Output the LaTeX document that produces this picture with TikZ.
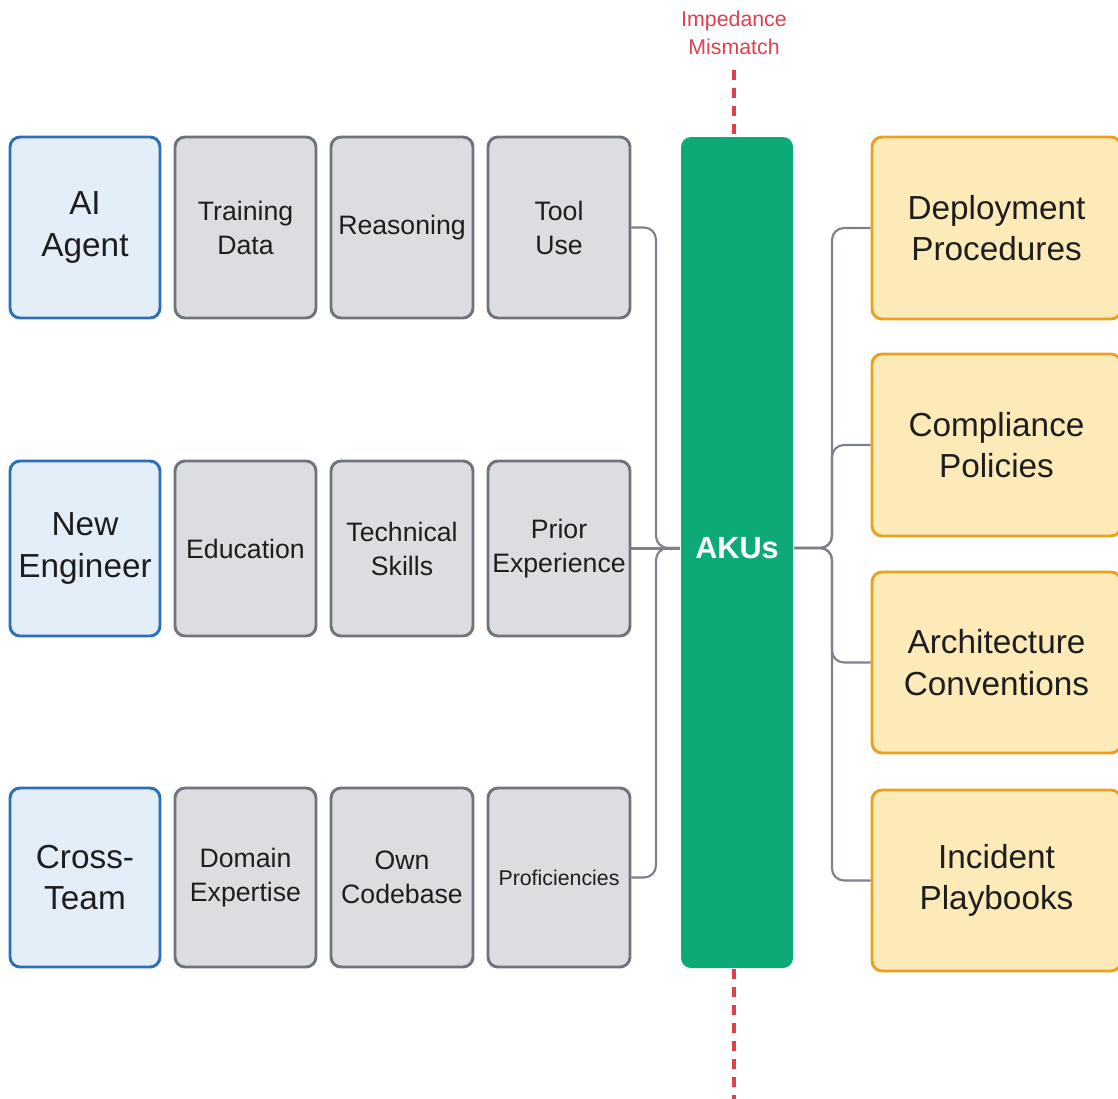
\documentclass[tikz,border=0pt]{standalone}
\usepackage{fontspec}
\setmainfont{Liberation Sans}
\definecolor{bluebd}{HTML}{2C6FB7}
\definecolor{bluefl}{HTML}{E4EEF9}
\definecolor{graybd}{HTML}{6E737C}
\definecolor{grayfl}{HTML}{DCDDE0}
\definecolor{yelbd}{HTML}{E8A21E}
\definecolor{yelfl}{HTML}{FCEBB9}
\definecolor{akugreen}{HTML}{0DAA78}
\definecolor{connc}{HTML}{7C818A}
\definecolor{redc}{HTML}{E0404E}
\definecolor{txt}{HTML}{1E1E1E}
\newcommand{\mybox}[7]{\node[#2, minimum width={(#5-#3)*0.75pt}, minimum height={(#6-#4)*0.75pt}] (#1) at ({(#3+#5)/2},{(#4+#6)/2}) {#7};}
\tikzset{
  base/.style={rectangle, rounded corners=7.5pt, line width=2.2pt, inner sep=0pt, align=center, text=txt},
  bluebox/.style={base, draw=bluebd, fill=bluefl, font=\fontsize{25}{31}\selectfont},
  graybox/.style={base, draw=graybd, fill=grayfl, font=\fontsize{20}{25.5}\selectfont},
  smallgray/.style={graybox, font=\fontsize{16}{20}\selectfont},
  yelbox/.style={base, draw=yelbd, fill=yelfl, font=\fontsize{25}{31}\selectfont},
  akubox/.style={base, draw=none, fill=akugreen, text=white, font=\bfseries\fontsize{23}{28}\selectfont},
  conn/.style={draw=connc, line width=1.6pt, rounded corners=9pt},
  reddash/.style={draw=redc, line width=2.8pt, dash pattern=on 7.5pt off 6pt},
  redlabel/.style={text=redc, align=center, font=\fontsize{16}{20.5}\selectfont}
}
\begin{document}
\begin{tikzpicture}[x=0.75pt, y=-0.75pt]
\useasboundingbox[fill=white] (0,0) rectangle (1118,1099);
\clip (0,0) rectangle (1118,1099);
% left column
\mybox{ai}{bluebox}{10}{137}{160}{318}{AI\\Agent}
\mybox{ne}{bluebox}{10}{461}{160}{636}{New\\Engineer}
\mybox{ct}{bluebox}{10}{788}{160}{967}{Cross-\\Team}
\mybox{td}{graybox}{175}{137}{316}{318}{Training\\Data}
\mybox{rs}{graybox}{331}{137}{473}{318}{Reasoning}
\mybox{tu}{graybox}{488}{137}{630}{318}{Tool\\Use}
\mybox{ed}{graybox}{175}{461}{316}{636}{Education}
\mybox{ts}{graybox}{331}{461}{473}{636}{Technical\\Skills}
\mybox{pe}{graybox}{488}{461}{630}{636}{Prior\\Experience}
\mybox{de}{graybox}{175}{788}{316}{967}{Domain\\Expertise}
\mybox{oc}{graybox}{331}{788}{473}{967}{Own\\Codebase}
\mybox{pr}{smallgray}{488}{788}{630}{967}{Proficiencies}
% AKUs
\mybox{aku}{akubox}{681}{137}{793}{968}{}
\node[text=white, font=\bfseries\fontsize{23}{28}\selectfont] (akulbl) at (737,548) {AKUs};
% right column
\mybox{dp}{yelbox}{872}{137}{1121}{319}{Deployment\\Procedures}
\mybox{cp}{yelbox}{872}{354}{1121}{536}{Compliance\\Policies}
\mybox{ac}{yelbox}{872}{572}{1121}{753}{Architecture\\Conventions}
\mybox{ip}{yelbox}{872}{790}{1121}{971}{Incident\\Playbooks}
% connectors
\coordinate (lj) at (656,548);
\coordinate (rj) at (832,548);
\draw[conn] (tu.east) -| (lj) -- (aku.west |- lj);
\draw[conn] (pr.east) -| (lj) -- (aku.west |- lj);
\draw[conn] (pe.east) -- (aku.west |- pe.east);
\draw[conn] (aku.east |- rj) -- (rj) |- (dp.west);
\draw[conn] (aku.east |- rj) -- (rj) |- (cp.west);
\draw[conn] (aku.east |- rj) -- (rj) |- (ac.west);
\draw[conn] (aku.east |- rj) -- (rj) |- (ip.west);
% impedance mismatch
\node[redlabel] (imp) at (734,33) {Impedance\\Mismatch};
\coordinate (dtop) at (734,70);
\coordinate (dbot) at (734,1099);
\draw[reddash] (dtop) -- (dtop |- aku.north);
\draw[reddash] (dtop |- aku.south) -- (dbot);
\end{tikzpicture}
\end{document}
